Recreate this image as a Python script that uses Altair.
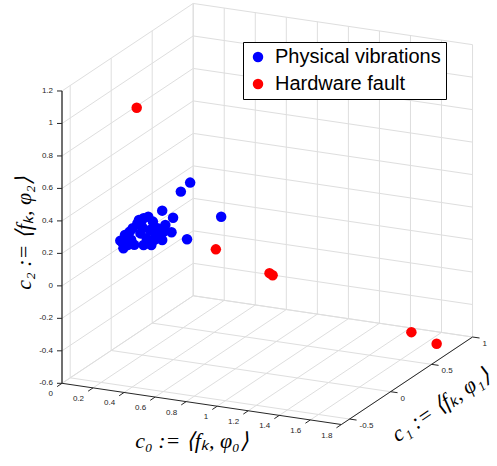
import altair as alt
import pandas as pd

# ---------------- data (c0, c1, c2 coordinates) ----------------
blue_c0 = [0.72, 0.66, 0.54, 0.61, 0.92, 0.70, 0.60, 0.54, 0.42, 0.38,
           0.48, 0.56, 0.33, 0.30, 0.27, 0.29, 0.36, 0.42, 0.47, 0.46,
           0.40, 0.50, 0.44, 0.34, 0.31, 0.41, 0.51, 0.35, 0.45, 0.39,
           0.32, 0.44, 0.49, 0.28, 0.55]
blue_c1 = [-0.40] * 35
blue_c2 = [0.670, 0.606, 0.472, 0.438, 0.488, 0.318, 0.347, 0.291, 0.408, 0.371,
           0.396, 0.386, 0.313, 0.288, 0.249, 0.205, 0.236, 0.243, 0.251, 0.342,
           0.312, 0.317, 0.288, 0.264, 0.249, 0.355, 0.360, 0.337, 0.422, 0.393,
           0.230, 0.257, 0.285, 0.244, 0.344]

red_c0 = [0.27, 0.78, 1.02, 1.04, 1.67, 1.78]
red_c1 = [-0.2, -0.2, 0.0, 0.0, 0.5, 0.6]
red_c2 = [1.00, 0.20, 0.02, 0.01, -0.42, -0.51]

groups = ["Physical vibrations", "Hardware fault"]
colors = ["#0000ff", "#ff0000"]

x_ticks = [0, 0.2, 0.4, 0.6, 0.8, 1, 1.2, 1.4, 1.6, 1.8]
y_ticks = [-0.5, 0, 0.5, 1]
z_ticks = [-0.6, -0.4, -0.2, 0, 0.2, 0.4, 0.6, 0.8, 1, 1.2]
x_lim = [0, 1.8]
y_lim = [-0.6, 1]
z_lim = [-0.6, 1.2]

x_title = "c₀ := ⟨fₖ, φ₀⟩"
y_title = "c₁ := ⟨fₖ, φ₁⟩"
z_title = "c₂ := ⟨fₖ, φ₂⟩"

# ---------------- view geometry (orthographic projection) ----------------
W, H = 497, 466
O = (62.0, 383.3)
EX = (155.2, 22.9)
EY = (82.0, -54.7)
EZ = (0.0, -162.4)


def proj(a, b, c, k):
    return (f"{O[k]} + ({a} - ({x_lim[0]}))*{EX[k]} + ({b} - ({y_lim[0]}))*{EY[k]}"
            f" + ({c} - ({z_lim[0]}))*{EZ[k]}")


xs = alt.Scale(domain=[0, W], nice=False, zero=False)
ys = alt.Scale(domain=[0, H], nice=False, zero=False, reverse=True)


def seg_layer(df, color, width):
    return alt.Chart(df).transform_calculate(
        X1=proj("datum.a0", "datum.a1", "datum.a2", 0),
        Y1=proj("datum.a0", "datum.a1", "datum.a2", 1),
        X2=proj("datum.b0", "datum.b1", "datum.b2", 0),
        Y2=proj("datum.b0", "datum.b1", "datum.b2", 1),
    ).mark_rule(color=color, strokeWidth=width).encode(
        x=alt.X("X1:Q", scale=xs, axis=None),
        y=alt.Y("Y1:Q", scale=ys, axis=None),
        x2="X2:Q", y2="Y2:Q",
    )


# grid segments on the three back panes
grid_rows = []
x0, x1 = x_lim
y0, y1 = y_lim
z0, z1 = z_lim
for z in z_ticks:
    grid_rows.append((x0, y0, z, x0, y1, z))   # left wall
    grid_rows.append((x0, y1, z, x1, y1, z))   # back wall
for y in y_ticks:
    grid_rows.append((x0, y, z0, x0, y, z1))   # left wall
    grid_rows.append((x0, y, z0, x1, y, z0))   # floor
for x in x_ticks:
    grid_rows.append((x, y1, z0, x, y1, z1))   # back wall
    grid_rows.append((x, y0, z0, x, y1, z0))   # floor
grid_df = pd.DataFrame(grid_rows, columns=["a0", "a1", "a2", "b0", "b1", "b2"])

axis_df = pd.DataFrame([
    (x0, y0, z0, x1, y0, z0),
    (x1, y0, z0, x1, y1, z0),
], columns=["a0", "a1", "a2", "b0", "b1", "b2"])
zaxis_df = pd.DataFrame([(x0, y0, z0, x0, y0, z1)],
                        columns=["a0", "a1", "a2", "b0", "b1", "b2"])

layers = [
    seg_layer(grid_df, "#dedede", 1),
    seg_layer(axis_df, "#262626", 1),
    seg_layer(zaxis_df, "#404040", 1.5),
]


def tick_layers(df, odx, ody, ldx, ldy, align, baseline):
    base = alt.Chart(df).transform_calculate(
        PX=proj("datum.t0", "datum.t1", "datum.t2", 0),
        PY=proj("datum.t0", "datum.t1", "datum.t2", 1),
    ).transform_calculate(
        QX=f"datum.PX + ({odx})", QY=f"datum.PY + ({ody})",
        LX=f"datum.PX + ({ldx})", LY=f"datum.PY + ({ldy})",
    )
    tick = base.mark_rule(color="#262626", strokeWidth=1).encode(
        x=alt.X("PX:Q", scale=xs, axis=None),
        y=alt.Y("PY:Q", scale=ys, axis=None),
        x2="QX:Q", y2="QY:Q",
    )
    lab = base.mark_text(font="Liberation Sans", fontSize=8, color="#262626",
                         align=align, baseline=baseline).encode(
        x=alt.X("LX:Q", scale=xs, axis=None),
        y=alt.Y("LY:Q", scale=ys, axis=None),
        text="lab:N",
    )
    return [tick, lab]


xt_df = pd.DataFrame({"t0": x_ticks, "t1": y0, "t2": z0,
                      "lab": [f"{v:g}" for v in x_ticks]})
yt_df = pd.DataFrame({"t0": x1, "t1": y_ticks, "t2": z0,
                      "lab": [f"{v:g}" for v in y_ticks]})
zt_df = pd.DataFrame({"t0": x0, "t1": y0, "t2": z_ticks,
                      "lab": [f"{v:g}" for v in z_ticks]})

layers += tick_layers(xt_df, -4.9, 3.3, -9, 11, "right", "middle")
layers += tick_layers(yt_df, 7, 1, 10, 7, "left", "middle")
layers += tick_layers(zt_df, -5, 0, -9, 0, "right", "middle")

# scatter points
pts = pd.DataFrame({
    "c0": blue_c0 + red_c0,
    "c1": blue_c1 + red_c1,
    "c2": blue_c2 + red_c2,
    "group": [groups[0]] * len(blue_c0) + [groups[1]] * len(red_c0),
})
points = alt.Chart(pts).transform_calculate(
    SX=proj("datum.c0", "datum.c1", "datum.c2", 0),
    SY=proj("datum.c0", "datum.c1", "datum.c2", 1),
).mark_circle(size=110, opacity=1).encode(
    x=alt.X("SX:Q", scale=xs, axis=None),
    y=alt.Y("SY:Q", scale=ys, axis=None),
    color=alt.Color("group:N", scale=alt.Scale(domain=groups, range=colors),
                    legend=alt.Legend(title=None, orient="none", legendX=243, legendY=42,
                                      direction="vertical", fillColor="white",
                                      strokeColor="black", padding=5,
                                      labelFont="Liberation Sans", labelFontSize=20,
                                      labelColor="black", symbolType="circle",
                                      symbolSize=110, symbolStrokeWidth=0,
                                      symbolOpacity=1, rowPadding=7, labelOffset=7,
                                      labelLimit=400)),
)
layers.append(points)

# axis titles
title_font = dict(font="Liberation Serif", fontStyle="italic", fontSize=22, color="black")
layers.append(alt.Chart().mark_text(align="center", baseline="middle", **title_font).encode(
    x=alt.value(192), y=alt.value(441), text=alt.value(x_title)))
layers.append(alt.Chart().mark_text(align="center", baseline="middle", angle=326, **title_font).encode(
    x=alt.value(441), y=alt.value(405), text=alt.value(y_title)))
layers.append(alt.Chart().mark_text(align="center", baseline="middle", angle=270, **title_font).encode(
    x=alt.value(24), y=alt.value(233), text=alt.value(z_title)))

chart = alt.layer(*layers).properties(
    width=W, height=H, autosize=alt.AutoSizeParams(type="none"), padding=0,
    background="white",
).configure_view(stroke=None)

chart.save("out.html", embed_options={"renderer": "svg", "actions": False})
